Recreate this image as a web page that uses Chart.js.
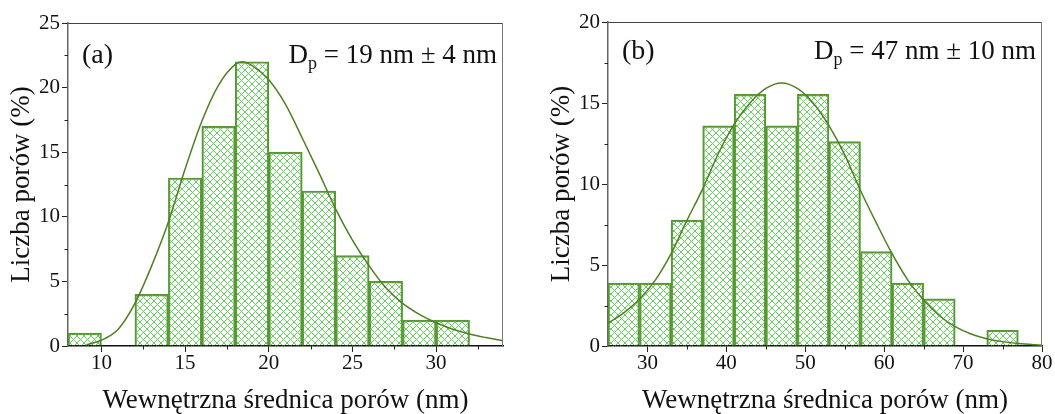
<!DOCTYPE html>
<html>
<head>
<meta charset="utf-8">
<script src="https://cdn.jsdelivr.net/npm/chart.js@4.4.1/dist/chart.umd.min.js"></script>
<style>
  body { margin: 0; background: #fff; }
  #wrap { position: relative; width: 1055px; height: 414px; }
  canvas { position: absolute; top: 0; }
</style>
</head>
<body>
<div id="wrap">
  <canvas id="chartA" width="527" height="414" style="left:0"></canvas>
  <canvas id="chartB" width="528" height="414" style="left:527px"></canvas>
</div>
<script>
// (a) histogram, 2 nm bins (bin centres, % of pores)
const binCentersA = [9, 13, 15, 17, 19, 21, 23, 25, 27, 29, 31];
const percentA = [1, 4, 13, 17, 22, 15, 12, 7, 5, 2, 2];
// (a) log-normal fit curve
const fitXA = [9.1, 10, 11, 12, 13, 14, 15, 16, 17, 18, 18.4, 19, 20, 21, 22, 23, 24, 25, 26, 27, 28, 29, 30, 31, 32, 33, 34];
const fitYA = [0.1, 0.45, 1.3, 3.3, 6.2, 9.6, 13.7, 17.4, 20.2, 21.8, 22.0, 21.7, 20.6, 18.7, 16.1, 13.4, 10.6, 8.2, 6.2, 4.5, 3.3, 2.45, 1.8, 1.3, 0.93, 0.65, 0.41];
const xTicksA = [10, 15, 20, 25, 30];
const xMinorA = [12.5, 17.5, 22.5, 27.5, 32.5];
const yTicksA = [0, 5, 10, 15, 20, 25];
const yMinorA = [2.5, 7.5, 12.5, 17.5, 22.5];

// (b) histogram, 4 nm bins
const binCentersB = [27, 31, 35, 39, 43, 47, 51, 55, 59, 63, 67, 75];
const percentB = [3.88, 3.88, 7.77, 13.59, 15.53, 13.59, 15.53, 12.62, 5.83, 3.88, 2.91, 0.97];
// (b) gaussian fit curve
const fitXB = [25, 27, 29, 31, 33, 35, 37, 39, 41, 43, 45, 47, 49, 51, 53, 55, 57, 59, 61, 63, 65, 67, 69, 71, 73, 75, 77, 80];
const fitYB = [1.4, 2.05, 2.9, 4.07, 5.7, 7.75, 9.7, 11.9, 13.7, 15.0, 15.9, 16.24, 15.9, 15.0, 13.6, 11.8, 9.6, 7.6, 5.7, 4.07, 2.84, 1.87, 1.19, 0.74, 0.45, 0.27, 0.15, 0.05];
const xTicksB = [30, 40, 50, 60, 70, 80];
const xMinorB = [35, 45, 55, 65, 75];
const yTicksB = [0, 5, 10, 15, 20];
const yMinorB = [2.5, 7.5, 12.5, 17.5];

const SERIF = '"Liberation Serif", "Times New Roman", serif';

// light green cross-hatch used to fill the bars
function hatch() {
  const c = document.createElement('canvas');
  c.width = 7; c.height = 7;
  const g = c.getContext('2d');
  g.strokeStyle = '#62d05a';
  g.lineWidth = 1;
  g.beginPath();
  for (let k = -1; k <= 1; k++) {
    g.moveTo(k * 7 - 1, -1); g.lineTo(k * 7 + 8, 8);
    g.moveTo(k * 7 - 1, 8); g.lineTo(k * 7 + 8, -1);
  }
  g.stroke();
  return g.createPattern(c, 'repeat');
}

// frame, minor ticks and panel texts
const panelText = {
  id: 'panelText',
  afterDraw(chart, args, opts) {
    const { ctx, chartArea: a } = chart;
    const xs = chart.scales.x, ys = chart.scales.y;
    ctx.save();
    ctx.lineWidth = 1;
    ctx.strokeStyle = '#444';
    ctx.beginPath();
    ctx.moveTo(a.left, a.top + 0.5); ctx.lineTo(a.right, a.top + 0.5);
    ctx.stroke();
    ctx.strokeStyle = '#777';
    ctx.beginPath();
    ctx.moveTo(a.right - 0.5, a.top); ctx.lineTo(a.right - 0.5, a.bottom);
    ctx.stroke();

    ctx.strokeStyle = '#222';
    ctx.beginPath();
    opts.minorX.forEach(v => {
      const p = Math.round(xs.getPixelForValue(v)) + 0.5;
      ctx.moveTo(p, a.bottom); ctx.lineTo(p, a.bottom + 3.5);
    });
    opts.minorY.forEach(v => {
      const p = Math.round(ys.getPixelForValue(v)) + 0.5;
      ctx.moveTo(a.left - 3.5, p); ctx.lineTo(a.left, p);
    });
    ctx.stroke();

    ctx.fillStyle = '#111';
    ctx.textBaseline = 'alphabetic';
    ctx.textAlign = 'left';
    const base = a.top + opts.dy;
    ctx.font = '28px ' + SERIF;
    ctx.fillText(opts.tag, a.left + 14, base);

    const rest = ' = ' + opts.size;
    ctx.font = '27px ' + SERIF;
    const wD = ctx.measureText('D').width;
    const wR = ctx.measureText(rest).width;
    ctx.font = '18px ' + SERIF;
    const wp = ctx.measureText('p').width;
    let x = a.right - 6 - (wD + wp + wR);
    ctx.font = '27px ' + SERIF;
    ctx.fillText('D', x, base);
    x += wD;
    ctx.font = '18px ' + SERIF;
    ctx.fillText('p', x, base + 6);
    x += wp;
    ctx.font = '27px ' + SERIF;
    ctx.fillText(rest, x, base);
    ctx.restore();
  }
};

function makeChart(id, cfg) {
  const fill = hatch();
  const tickFont = { family: SERIF, size: 21, lineHeight: 1 };
  const titleFont = { family: SERIF, size: 27, lineHeight: 1 };
  return new Chart(document.getElementById(id), {
    type: 'bar',
    data: {
      datasets: [
        {
          type: 'line',
          order: 0,
          data: cfg.fitX.map((x, i) => ({ x, y: cfg.fitY[i] })),
          borderColor: '#4e8021',
          borderWidth: 1.5,
          pointRadius: 0,
          fill: false,
          cubicInterpolationMode: 'monotone'
        },
        {
          type: 'bar',
          order: 1,
          data: cfg.bins.map((x, i) => ({ x, y: cfg.values[i] })),
          backgroundColor: fill,
          borderColor: '#5a9536',
          borderWidth: 1.5,
          barPercentage: 1,
          categoryPercentage: 1
        }
      ]
    },
    options: {
      responsive: false,
      animation: false,
      events: [],
      layout: { padding: { top: cfg.top, right: cfg.right, bottom: 0, left: 0 } },
      plugins: {
        legend: { display: false },
        tooltip: { enabled: false },
        panelText: { tag: cfg.tag, size: cfg.size, dy: cfg.dy, minorX: cfg.minorX, minorY: cfg.minorY }
      },
      scales: {
        x: {
          type: 'linear',
          offset: false,
          min: cfg.xMin,
          max: cfg.xMax,
          afterBuildTicks: s => { s.ticks = cfg.xTicks.map(v => ({ value: v })); },
          afterFit: s => { s.height = 68; },
          grid: { offset: false, drawOnChartArea: false, tickLength: 6, tickColor: '#222', tickWidth: 1 },
          border: { color: '#111', width: 1.5 },
          ticks: { font: tickFont, color: '#111', padding: 1, maxRotation: 0 },
          title: { display: true, text: 'Wewnętrzna średnica porów (nm)', font: titleFont, color: '#111', padding: { top: 0, bottom: 0 } }
        },
        y: {
          min: 0,
          max: cfg.yMax,
          afterBuildTicks: s => { s.ticks = cfg.yTicks.map(v => ({ value: v })); },
          afterFit: s => { s.width = cfg.yWidth; },
          grid: { drawOnChartArea: false, tickLength: 6, tickColor: '#222', tickWidth: 1 },
          border: { color: '#666', width: 1.5 },
          ticks: { font: tickFont, color: '#111', padding: 2 },
          title: { display: true, text: 'Liczba porów (%)', font: titleFont, color: '#111', padding: { top: cfg.yTitlePad, bottom: 0 } }
        }
      }
    },
    plugins: [panelText]
  });
}

makeChart('chartA', {
  bins: binCentersA, values: percentA, fitX: fitXA, fitY: fitYA,
  xMin: 8, xMax: 34, yMax: 25,
  xTicks: xTicksA, yTicks: yTicksA, minorX: xMinorA, minorY: yMinorA,
  tag: '(a)', size: '19 nm ± 4 nm', dy: 40,
  top: 23, right: 24, yWidth: 68, yTitlePad: 8.5
});

makeChart('chartB', {
  bins: binCentersB, values: percentB, fitX: fitXB, fitY: fitYB,
  xMin: 25, xMax: 80, yMax: 20,
  xTicks: xTicksB, yTicks: yTicksB, minorX: xMinorB, minorY: yMinorB,
  tag: '(b)', size: '47 nm ± 10 nm', dy: 37,
  top: 22, right: 13, yWidth: 81, yTitlePad: 21
});
</script>
</body>
</html>
